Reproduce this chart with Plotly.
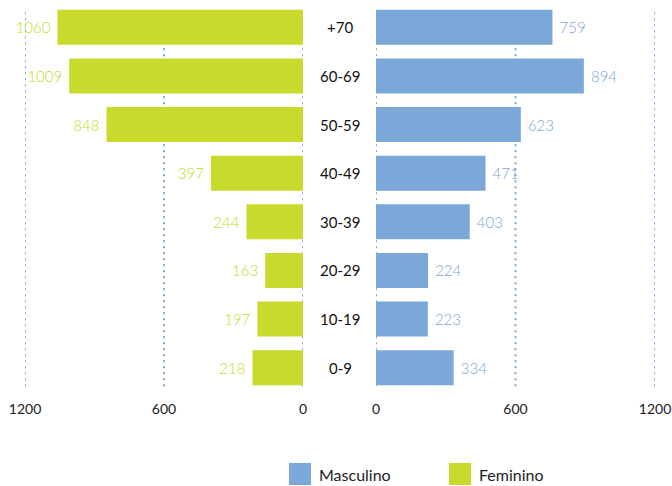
import plotly.graph_objects as go

# Age groups, top to bottom
age_groups = ["+70", "60-69", "50-59", "40-49", "30-39", "20-29", "10-19", "0-9"]
feminino = [1060, 1009, 848, 397, 244, 163, 197, 218]
masculino = [759, 894, 623, 471, 403, 224, 223, 334]
tick_values = [0, 600, 1200]
tick_labels = ["0", "600", "1200"]

GREEN = "#c8da2b"
BLUE = "#7ba7d9"
FONT = "Lato"
W, H = 672, 486
PAD = "\u00a0"

fig = go.Figure()

fig.add_trace(go.Bar(
    y=age_groups, x=feminino, orientation="h", name="Feminino",
    xaxis="x", yaxis="y",
    marker=dict(color=GREEN, line=dict(width=0)),
    text=[f"{v}{PAD}" for v in feminino], textposition="outside",
    textfont=dict(color=GREEN, size=15, family=FONT, weight=300),
    cliponaxis=False, showlegend=False,
))

fig.add_trace(go.Bar(
    y=age_groups, x=masculino, orientation="h", name="Masculino",
    xaxis="x2", yaxis="y2",
    marker=dict(color=BLUE, line=dict(width=0)),
    text=[f"{PAD}{v}" for v in masculino], textposition="outside",
    textfont=dict(color=BLUE, size=15, family=FONT, weight=300),
    cliponaxis=False, showlegend=False,
))

xaxis_common = dict(
    tickvals=tick_values, ticktext=tick_labels,
    showgrid=False, zeroline=False, showline=False, automargin=False,
    ticks="outside", ticklen=4, tickcolor="rgba(0,0,0,0)",
    tickfont=dict(size=14, color="#222222", family=FONT),
)
yaxis_common = dict(
    type="category", categoryorder="array", categoryarray=age_groups,
    range=[len(age_groups) - 0.5, -0.5], automargin=False,
    showticklabels=False, showgrid=False, zeroline=False, showline=False,
)

fig.update_layout(
    xaxis=dict(range=[1200, 0], domain=[25 / W, 303 / W], anchor="y", **xaxis_common),
    xaxis2=dict(range=[0, 1200], domain=[376 / W, 655 / W], anchor="y2", **xaxis_common),
    yaxis=dict(anchor="x", **yaxis_common),
    yaxis2=dict(anchor="x2", **yaxis_common),
)

# Dotted vertical guide lines at each tick, drawn beneath the bars
for xref, yref in (("x", "y domain"), ("x2", "y2 domain")):
    for v in tick_values:
        fig.add_shape(
            type="line", xref=xref, yref=yref, x0=v, x1=v, y0=0.015, y1=0.985,
            line=dict(color=BLUE, width=2, dash="2px,4px"), layer="below",
        )

# Age-group labels centred between the two halves (positioned by category index)
for i, g in enumerate(age_groups):
    fig.add_annotation(
        x=340 / W, xref="paper", y=i, yref="y2", text=g, showarrow=False,
        xanchor="center", yanchor="middle",
        font=dict(size=15, color="#111111", family=FONT),
    )

# Legend drawn as coloured squares with labels
plot_h = H - 3 - 94
legend_items = [("Masculino", BLUE, 289 / W), ("Feminino", GREEN, 449 / W)]
for label, color, x0 in legend_items:
    fig.add_shape(
        type="rect", xref="paper", yref="paper",
        x0=x0, x1=x0 + 22 / W, y0=-93 / plot_h, y1=-71 / plot_h,
        fillcolor=color, line=dict(width=0),
    )
    fig.add_annotation(
        x=x0 + 28 / W, xref="paper", y=-82 / plot_h, yref="paper",
        text=label, showarrow=False, xanchor="left", yanchor="middle",
        font=dict(size=16, color="#222222", family=FONT),
    )

fig.update_layout(
    width=W, height=H,
    margin=dict(l=0, r=0, t=3, b=94, autoexpand=False),
    bargap=0.28,
    plot_bgcolor="white", paper_bgcolor="white",
    font=dict(family=FONT),
)

fig.write_html("out.html")
